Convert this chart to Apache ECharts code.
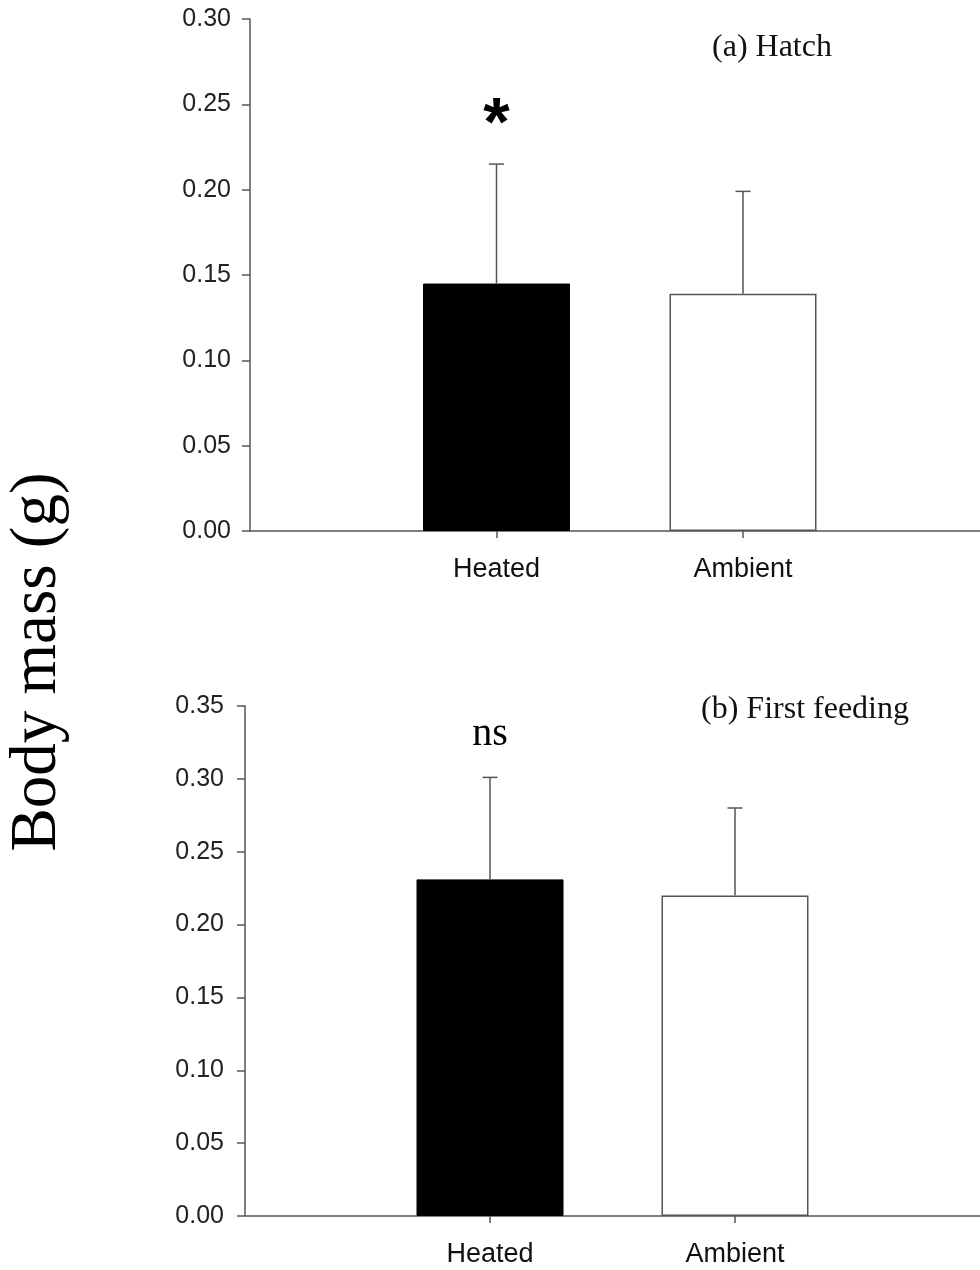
<!DOCTYPE html>
<html>
	<head>
		<meta charset="utf-8">
		<script src="https://cdn.jsdelivr.net/npm/echarts@6/dist/echarts.min.js"></script>
		<title>Body mass</title>
	</head>
	<body>
		<style>
			html,
			body,
			#main {
				width: 100%;
				height: 100%;
				margin: 0;
				background: #fff;
			}
		</style>
		<div id="main"></div>
		<script type="text/javascript">
			// 数据
			var groups = ['Heated', 'Ambient'];
			var hatchMean = [0.145, 0.139];
			var hatchSE = [0.070, 0.060];
			var hatchSig = ['*', ''];
			var feedMean = [0.231, 0.220];
			var feedSE = [0.070, 0.060];
			var feedSig = ['ns', ''];
			var hatchTicks = { min: 0, max: 0.30, interval: 0.05 };
			var feedTicks = { min: 0, max: 0.35, interval: 0.05 };

			var axisColor = '#555';
			var serif = '"Liberation Serif", "Times New Roman", serif';
			var sans = '"Liberation Sans", Arial, sans-serif';

			// 横轴两端留空类目
			var cats = [''].concat(groups, ['']);

			function barData(means) {
				return means.map(function(v, i) {
					return {
						value: [groups[i], v],
						itemStyle: i === 0 ?
							{ color: '#000', borderColor: '#000', borderWidth: 1 } :
							{ color: '#fff', borderColor: axisColor, borderWidth: 1.5 }
					};
				});
			}

			function errData(means, se) {
				return means.map(function(v, i) {
					return [groups[i], v, v + se[i]];
				});
			}

			function errRender(sig, sigFont, sigOffset) {
				return function(params, api) {
					var x = api.value(0);
					var p0 = api.coord([x, api.value(1)]);
					var p1 = api.coord([x, api.value(2)]);
					var st = { stroke: axisColor, lineWidth: 1.5 };
					var children = [
						{ type: 'line', shape: { x1: p0[0], y1: p0[1], x2: p1[0], y2: p1[1] }, style: st },
						{ type: 'line', shape: { x1: p1[0] - 7.5, y1: p1[1], x2: p1[0] + 7.5, y2: p1[1] }, style: st }
					];
					var s = sig[params.dataIndex];
					if (s) {
						children.push({
							type: 'text',
							x: p1[0],
							y: p1[1] - sigOffset,
							style: { text: s, font: sigFont, fill: '#000', align: 'center', verticalAlign: 'middle' }
						});
					}
					return { type: 'group', children: children };
				};
			}

			function xAxis(gridIndex) {
				return {
					type: 'category',
					gridIndex: gridIndex,
					data: cats,
					boundaryGap: false,
					axisLine: { lineStyle: { color: axisColor, width: 1.5 } },
					axisTick: {
						length: 7,
						lineStyle: { color: axisColor, width: 1.5 },
						interval: function(i, v) { return v !== ''; }
					},
					axisLabel: {
						interval: 0,
						margin: 25,
						color: '#111',
						fontFamily: sans,
						fontSize: 27
					},
					splitLine: { show: false }
				};
			}

			function yAxis(gridIndex, t, margin) {
				return {
					type: 'value',
					gridIndex: gridIndex,
					min: t.min,
					max: t.max,
					interval: t.interval,
					axisLine: { show: true, lineStyle: { color: axisColor, width: 1.5 } },
					axisTick: { show: true, length: 8, lineStyle: { color: axisColor, width: 1.5 } },
					axisLabel: {
						margin: margin,
						color: '#222',
						fontFamily: sans,
						fontSize: 25,
						formatter: function(v) { return v.toFixed(2); }
					},
					splitLine: { show: false }
				};
			}

			var myChart = echarts.init(document.getElementById('main'));

			var option = {
				animation: false,
				backgroundColor: '#fff',
				grid: [
					{ left: 250, top: 19, height: 512, width: 739.5, containLabel: false, outerBoundsMode: 'none' },
					{ left: 245, top: 706, height: 510, width: 735, containLabel: false, outerBoundsMode: 'none' }
				],
				xAxis: [xAxis(0), xAxis(1)],
				yAxis: [yAxis(0, hatchTicks, 19), yAxis(1, feedTicks, 21)],
				graphic: [
					{
						type: 'text', x: 38, y: 662, rotation: Math.PI / 2,
						style: { text: 'Body mass (g)', font: '65px ' + serif, fill: '#000', align: 'center', verticalAlign: 'middle' }
					},
					{
						type: 'text', x: 772, y: 48,
						style: { text: '(a) Hatch', font: '32px ' + serif, fill: '#111', align: 'center', verticalAlign: 'middle' }
					},
					{
						type: 'text', x: 805, y: 710,
						style: { text: '(b) First feeding', font: '32px ' + serif, fill: '#111', align: 'center', verticalAlign: 'middle' }
					}
				],
				series: [
					{
						type: 'bar',
						xAxisIndex: 0,
						yAxisIndex: 0,
						barWidth: 147,
						data: barData(hatchMean)
					},
					{
						type: 'custom',
						xAxisIndex: 0,
						yAxisIndex: 0,
						renderItem: errRender(hatchSig, 'bold 68px ' + sans, 38),
						data: errData(hatchMean, hatchSE),
						z: 5
					},
					{
						type: 'bar',
						xAxisIndex: 1,
						yAxisIndex: 1,
						barWidth: 147,
						data: barData(feedMean)
					},
					{
						type: 'custom',
						xAxisIndex: 1,
						yAxisIndex: 1,
						renderItem: errRender(feedSig, '40px ' + serif, 43),
						data: errData(feedMean, feedSE),
						z: 5
					}
				]
			};

			myChart.setOption(option);

			window.onresize = function() {
				myChart.resize();
			}
		</script>
	</body>
</html>
